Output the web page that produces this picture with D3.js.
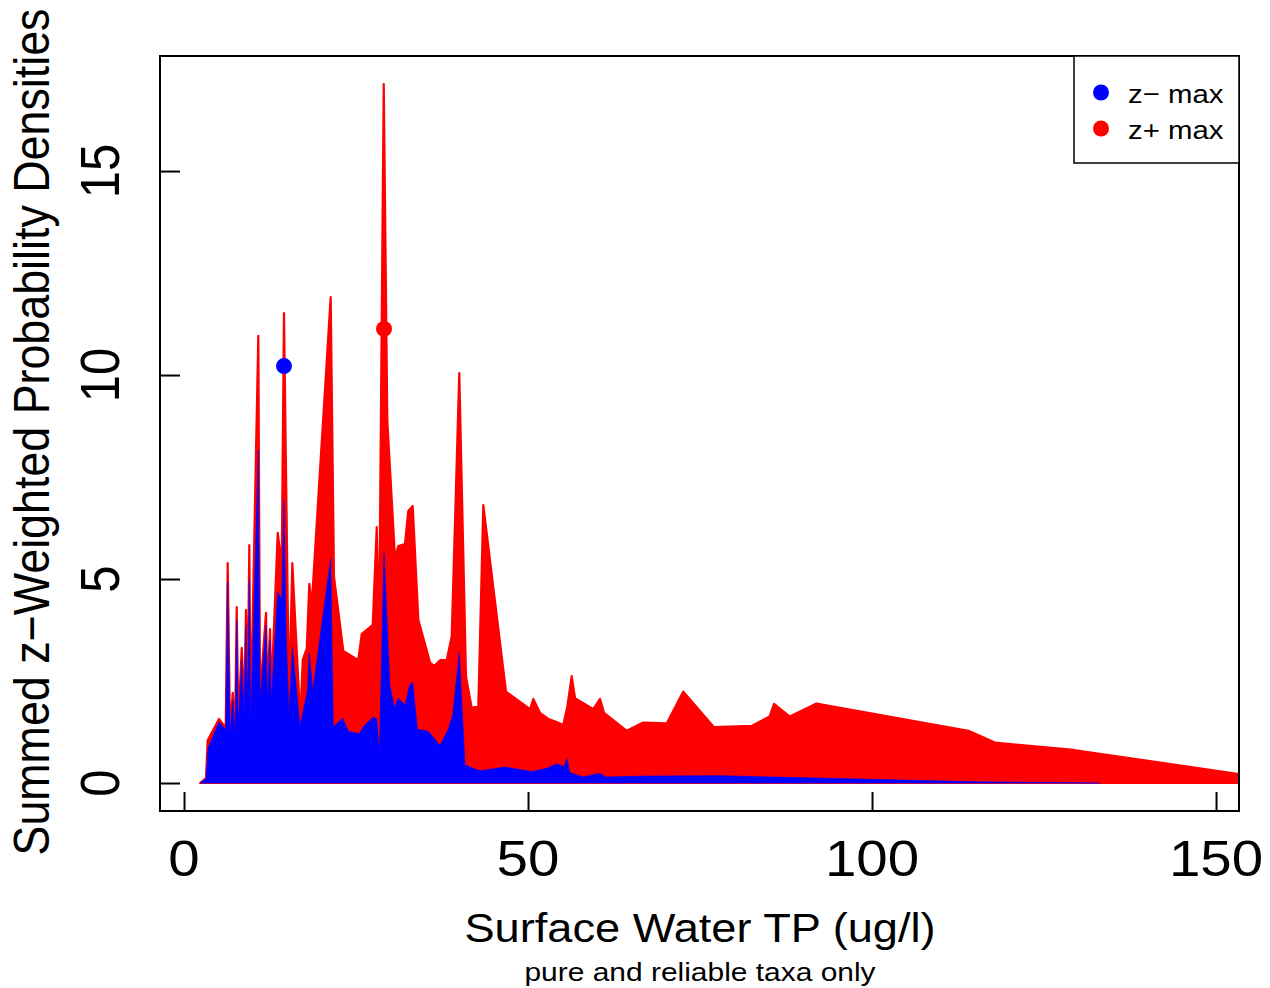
<!DOCTYPE html>
<html>
<head>
<meta charset="utf-8">
<script src="https://cdn.jsdelivr.net/npm/d3@7"></script>
<style>
  body { margin: 0; background: #fff; }
  text { font-family: "Liberation Sans", Arial, sans-serif; fill: #000; }
</style>
</head>
<body>
<div id="chart"></div>
<script>
// TP values (ug/l) and summed densities
var redX = [2.33, 3.20, 3.44, 5.09, 6.06, 6.35, 6.69, 7.08, 7.41, 7.66, 7.89, 8.39, 8.72, 9.01,
    9.26, 9.49, 9.69, 10.80, 11.05, 11.92, 12.11, 12.50, 12.69, 13.62, 14.20, 14.53, 15.26,
    15.74, 16.90, 17.26, 17.84, 18.21, 18.56, 21.32, 21.80, 23.15, 25.33, 25.83, 27.43, 28.01,
    28.34, 29.03, 29.55, 30.67, 31.15, 32.12, 32.60, 33.24, 34.06, 35.76, 36.34, 37.21, 38.18,
    38.91, 40.01, 40.99, 41.82, 42.78, 43.50, 46.80, 50.29, 50.77, 51.74, 52.95, 54.07, 55.13,
    55.71, 56.35, 56.83, 59.49, 60.47, 61.05, 64.35, 66.67, 70.16, 72.57, 77.03, 82.49, 85.10,
    85.76, 88.04, 91.93, 114.01, 117.86, 129.33, 153.34];
var redY = [0, 0.12, 1.05, 1.57, 1.35, 5.39, 1.30, 2.21, 1.25, 4.31, 1.50, 3.31, 1.84, 4.24,
    2.16, 5.83, 1.54, 10.96, 2.16, 4.17, 2.21, 3.77, 2.21, 6.13, 5.34, 11.52, 1.99,
    5.39, 1.55, 3.02, 3.30, 4.88, 4.36, 11.91, 5.05, 3.24, 3.01, 3.65, 3.88, 6.27,
    3.42, 17.13, 8.88, 5.51, 5.81, 5.86, 6.67, 6.79, 4.00, 2.95, 2.87, 3.01, 3.01,
    3.60, 10.05, 2.60, 1.84, 1.89, 6.81, 2.24, 1.81, 2.06, 1.72, 1.57, 1.50, 1.42,
    1.87, 2.62, 2.08, 1.81, 2.06, 1.72, 1.28, 1.48, 1.46, 2.24, 1.37, 1.40, 1.63,
    1.94, 1.63, 1.95, 1.28, 0.99, 0.81, 0.22];

var blueX = [2.33, 3.20, 3.49, 5.09, 6.06, 6.35, 6.69, 7.08, 7.41, 7.66, 7.89, 8.39, 8.72, 9.01,
    9.26, 9.49, 9.69, 10.80, 11.05, 11.92, 12.11, 12.50, 12.69, 13.62, 14.20, 14.53, 14.83,
    15.26, 15.74, 16.86, 17.92, 18.21, 18.71, 21.32, 21.70, 23.07, 23.88, 25.48, 26.06, 27.51,
    28.01, 28.39, 29.07, 29.94, 30.57, 31.15, 32.12, 32.75, 33.24, 33.91, 35.51, 37.21, 38.41,
    39.06, 40.01, 40.84, 41.57, 43.02, 46.66, 50.54, 52.72, 54.17, 55.23, 55.63, 56.10, 58.04,
    60.47, 61.19, 67.25, 77.91, 115.41, 133.1];
var blueY = [0, 0.10, 0.86, 1.50, 1.30, 4.93, 1.25, 2.03, 1.18, 4.00, 1.42, 3.01, 1.74, 3.87,
    2.03, 4.98, 1.50, 8.16, 2.03, 3.87, 2.03, 3.50, 2.03, 4.68, 4.49, 6.94, 3.75,
    1.67, 3.33, 1.40, 2.25, 3.19, 2.25, 5.51, 1.38, 1.59, 1.27, 1.21, 1.38, 1.62,
    1.57, 0.75, 5.64, 2.38, 1.85, 2.08, 1.91, 2.38, 2.48, 1.32, 1.27, 0.92, 1.32,
    1.68, 3.19, 0.45, 0.39, 0.30, 0.39, 0.28, 0.36, 0.47, 0.40, 0.61, 0.25, 0.15,
    0.24, 0.15, 0.17, 0.18, 0.03, 0];

// z- max and z+ max markers
var maxNames = ["z\u2212 max", "z+ max"];
var maxColors = ["#0000ff", "#ff0000"];
var maxX = [14.53, 29.07];
var maxY = [10.22, 11.13];

var xTicks = [0, 50, 100, 150];
var yTicks = [0, 5, 10, 15];

var svgWidth = 1270;
var svgHeight = 988;

// plot region (box) in pixels
var margin = { top: 56, bottom: 177, left: 160, right: 31 };
var width = svgWidth - margin.left - margin.right;
var height = svgHeight - margin.top - margin.bottom;

// text in the picture is a little wider than the font
var stretch = 1.13;

var svg = d3.select("#chart")
    .append("svg")
    .attr("width", svgWidth)
    .attr("height", svgHeight);

var chartGroup = svg.append("g")
    .attr("transform", `translate(${margin.left}, ${margin.top})`);

var xScale = d3.scaleLinear()
    .domain([-3.49, 153.34])
    .range([0, width]);

var yScale = d3.scaleLinear()
    .domain([-0.686, 17.82])
    .range([height, 0]);

chartGroup.append("clipPath")
    .attr("id", "plotclip")
    .append("rect")
    .attr("width", width)
    .attr("height", height);

var area = d3.area()
    .x(d => xScale(d[0]))
    .y0(yScale(0))
    .y1(d => yScale(d[1]));

var plotArea = chartGroup.append("g").attr("clip-path", "url(#plotclip)");

var redData = redX.map((x, i) => [x, redY[i]]);
var blueData = blueX.map((x, i) => [x, blueY[i]]);

// red drawn first, blue over it
plotArea.append("path")
    .attr("d", area(redData))
    .attr("fill", "#ff0000")
    .attr("stroke", "#ff0000")
    .attr("stroke-width", 2.2)
    .attr("stroke-linejoin", "round");

plotArea.append("path")
    .attr("d", area(blueData))
    .attr("fill", "#0000ff")
    .attr("stroke", "#0000ff")
    .attr("stroke-width", 0.6);

// max points
plotArea.selectAll("circle.maxpt")
    .data(maxX)
    .enter()
    .append("circle")
    .attr("class", "maxpt")
    .attr("cx", d => xScale(d))
    .attr("cy", (d, i) => yScale(maxY[i]))
    .attr("r", 8)
    .attr("fill", (d, i) => maxColors[i]);

// axes with inward ticks
var bottomAxis = d3.axisBottom(xScale).tickValues(xTicks).tickSize(-19).tickFormat("");
var leftAxis = d3.axisLeft(yScale).tickValues(yTicks).tickSize(-20).tickFormat("");

chartGroup.append("g")
    .attr("transform", `translate(0, ${height})`)
    .call(bottomAxis)
    .call(g => g.select(".domain").remove())
    .selectAll("line").attr("stroke", "#000").attr("stroke-width", 2);

chartGroup.append("g")
    .call(leftAxis)
    .call(g => g.select(".domain").remove())
    .selectAll("line").attr("stroke", "#000").attr("stroke-width", 2);

// box
chartGroup.append("rect")
    .attr("width", width)
    .attr("height", height)
    .attr("fill", "none")
    .attr("stroke", "#000")
    .attr("stroke-width", 2);

function stretchedText(g, x, y, angle, size, anchor, label) {
    return g.append("text")
        .attr("transform", `translate(${x}, ${y}) scale(${stretch}, 1) rotate(${angle})`)
        .attr("text-anchor", anchor)
        .style("font-size", size + "px")
        .text(label);
}

// tick labels
xTicks.forEach(function(t) {
    stretchedText(svg, margin.left + xScale(t), 876, 0, 50, "middle", t);
});
yTicks.forEach(function(t) {
    stretchedText(svg, 119, margin.top + yScale(t), -90, 49, "middle", t);
});

// axis titles
stretchedText(svg, 700, 942, 0, 40, "middle", "Surface Water TP (ug/l)");
stretchedText(svg, 700, 981, 0, 26.5, "middle", "pure and reliable taxa only");
stretchedText(svg, 49, 432, -90, 44.8, "middle", "Summed z\u2212Weighted Probability Densities");

// legend
var legendGroup = svg.append("g");
legendGroup.append("rect")
    .attr("x", 1074)
    .attr("y", margin.top)
    .attr("width", 1239 - 1074)
    .attr("height", 163 - margin.top)
    .attr("fill", "#fff")
    .attr("stroke", "#000")
    .attr("stroke-width", 1.5);

maxNames.forEach(function(name, i) {
    legendGroup.append("circle")
        .attr("cx", 1101)
        .attr("cy", 92.5 + i * 36)
        .attr("r", 8)
        .attr("fill", maxColors[i]);
    stretchedText(legendGroup, 1128, 103 + i * 35.5, 0, 26, "start", name);
});
</script>
</body>
</html>
